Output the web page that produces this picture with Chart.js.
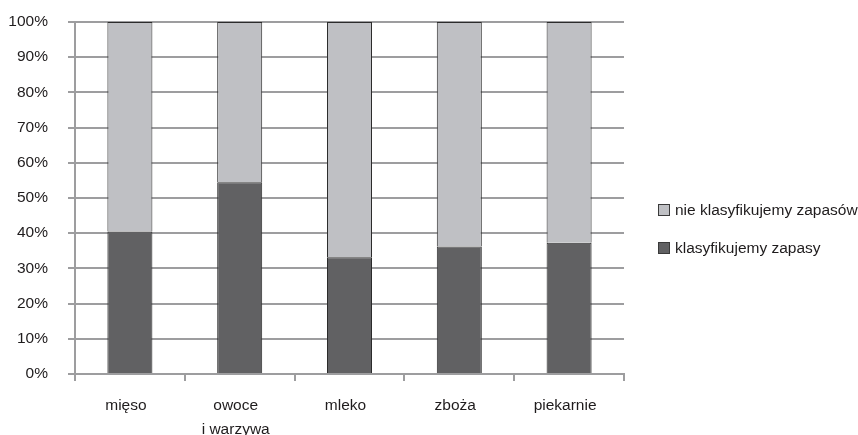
<!DOCTYPE html>
<html>
<head>
<meta charset="utf-8">
<script src="https://cdn.jsdelivr.net/npm/chart.js@4/dist/chart.umd.min.js"></script>
<style>
  html, body { margin: 0; padding: 0; background: #ffffff; }
  #wrap { width: 858px; height: 435px; }
</style>
</head>
<body>
<div id="wrap"><canvas id="c" width="858" height="435"></canvas></div>
<script>
// Categories (multi-line labels as arrays)
const categories = ['mięso', ['owoce', 'i warzywa'], 'mleko', 'zboża', 'piekarnie'];

// Share of firms, in percent
const klasyfikujemy = [40.5, 54.5, 33.2, 36.2, 37.3];
const nieKlasyfikujemy = [59.5, 45.5, 66.8, 63.8, 62.7];

const seriesNames = ['klasyfikujemy zapasy', 'nie klasyfikujemy zapasów'];
const yTicks = [0, 10, 20, 30, 40, 50, 60, 70, 80, 90, 100];

const FONT = '"Liberation Sans", Arial, sans-serif';
const FONT_SIZE = 15.5;
const TEXT = '#1f1c1d';
const GRID = '#9d9d9f';

// Legend drawn at the right, light series on top
const sideLegend = {
  id: 'sideLegend',
  afterDraw(chart) {
    const ctx = chart.ctx;
    const ds = chart.data.datasets;
    const order = [1, 0];
    const rows = [210, 248];
    const x = 658, box = 12;
    ctx.save();
    ctx.font = FONT_SIZE + 'px ' + FONT;
    ctx.textBaseline = 'middle';
    order.forEach((i, k) => {
      const y = rows[k];
      ctx.fillStyle = ds[i].backgroundColor;
      ctx.fillRect(x, y - box / 2, box, box);
      ctx.strokeStyle = '#3a3a3a';
      ctx.lineWidth = 1;
      ctx.strokeRect(x + 0.5, y - box / 2 + 0.5, box - 1, box - 1);
      ctx.fillStyle = TEXT;
      ctx.fillText(ds[i].label, x + 17, y + 1);
    });
    ctx.restore();
  }
};

new Chart(document.getElementById('c'), {
  type: 'bar',
  data: {
    labels: categories,
    datasets: [
      {
        label: seriesNames[0],
        data: klasyfikujemy,
        backgroundColor: '#616163',
        borderColor: '#2b2b2b',
        borderWidth: 1,
        barPercentage: 0.41,
        categoryPercentage: 1
      },
      {
        label: seriesNames[1],
        data: nieKlasyfikujemy,
        backgroundColor: '#bfc0c4',
        borderColor: '#2b2b2b',
        borderWidth: 1,
        barPercentage: 0.41,
        categoryPercentage: 1
      }
    ]
  },
  options: {
    responsive: false,
    animation: false,
    layout: { padding: { left: 0, right: 234, top: 22, bottom: 0 } },
    plugins: {
      legend: { display: false },
      tooltip: { enabled: false }
    },
    scales: {
      x: {
        stacked: true,
        offset: true,
        afterFit(scale) {
          scale.height = 61;
          scale.paddingLeft = 0;
          scale.paddingRight = 0;
        },
        grid: {
          offset: true,
          drawOnChartArea: false,
          color: GRID,
          lineWidth: 2,
          tickLength: 7
        },
        border: { color: GRID, width: 2 },
        ticks: {
          color: TEXT,
          padding: 12,
          labelOffset: -4,
          font: { family: FONT, size: FONT_SIZE, lineHeight: 1.6 },
          maxRotation: 0,
          autoSkip: false
        }
      },
      y: {
        stacked: true,
        min: 0,
        max: 100,
        afterFit(scale) {
          scale.width = 75;
          scale.paddingTop = 0;
          scale.paddingBottom = 0;
        },
        afterBuildTicks(scale) { scale.ticks = yTicks.map(v => ({ value: v })); },
        grid: {
          color: GRID,
          lineWidth: 2,
          tickLength: 7
        },
        border: { color: GRID, width: 2 },
        ticks: {
          color: TEXT,
          padding: 20,
          font: { family: FONT, size: FONT_SIZE },
          callback: v => v + '%'
        }
      }
    }
  },
  plugins: [sideLegend]
});
</script>
</body>
</html>
